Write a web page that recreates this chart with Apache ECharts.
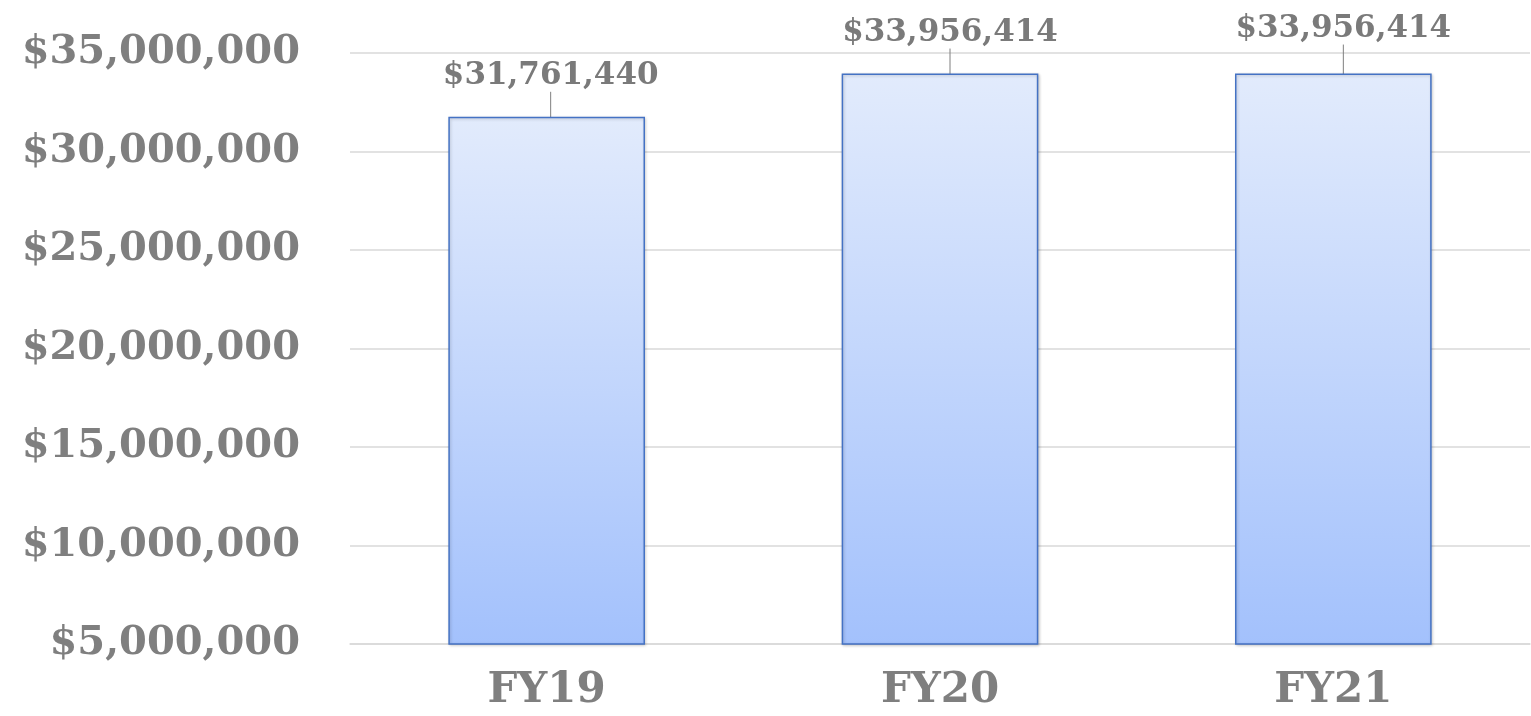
<!DOCTYPE html>
<html>
<head>
<meta charset="utf-8">
<script src="https://cdn.jsdelivr.net/npm/echarts@6/dist/echarts.min.js"></script>
<style>
html,body{margin:0;padding:0;background:#fff;}
#chart{width:1531px;height:716px;}
</style>
</head>
<body>
<div id="chart"></div>
<script>
const categories = ['FY19', 'FY20', 'FY21'];
const values = [31761440, 33956414, 33956414];
const yTicks = { min: 5000000, max: 35000000, interval: 5000000 };
const labelShift = [[4, -21], [10, -21], [10, -25]];

const fontFamily = 'DejaVu Serif';
const fmt = v => '$' + Number(v).toLocaleString('en-US');

const labelStyle = { color: '#7a7a7a', fontFamily: fontFamily, fontWeight: 'bold', fontSize: 31 };

const chart = echarts.init(document.getElementById('chart'));
chart.setOption({
  animation: false,
  textStyle: { fontFamily: fontFamily, fontWeight: 'bold' },
  grid: { left: 350, right: 1, top: 53, bottom: 72 },
  xAxis: {
    type: 'category',
    data: categories,
    axisLine: { show: true, lineStyle: { color: '#d9d9d9', width: 1.5 } },
    axisTick: { show: false },
    axisLabel: { color: '#7f7f7f', fontFamily, fontWeight: 'bold', fontSize: 42, margin: 26 }
  },
  yAxis: {
    type: 'value',
    min: yTicks.min, max: yTicks.max, interval: yTicks.interval,
    axisLine: { show: false },
    axisTick: { show: false },
    splitLine: { lineStyle: { color: '#d9d9d9', width: 1.5 } },
    axisLabel: { color: '#7f7f7f', fontFamily, fontWeight: 'bold', fontSize: 40, margin: 50, formatter: fmt }
  },
  series: [{
    type: 'bar',
    data: values,
    barWidth: '50%',
    itemStyle: {
      color: new echarts.graphic.LinearGradient(0, 0, 0, 1, [
        { offset: 0, color: '#e2ebfc' },
        { offset: 1, color: '#a3c1fc' }
      ]),
      borderColor: '#4472c4',
      borderWidth: 1.5,
      shadowColor: 'rgba(0,0,0,0.2)',
      shadowBlur: 3,
      shadowOffsetX: 1,
      shadowOffsetY: 1
    },
    label: Object.assign({
      show: true,
      position: 'top',
      distance: 4,
      formatter: p => fmt(p.value)
    }, labelStyle),
    emphasis: { disabled: true },
    labelLine: { show: true, lineStyle: { color: '#7f7f7f', width: 1 } },
    labelLayout: p => ({ dx: labelShift[p.dataIndex][0], dy: labelShift[p.dataIndex][1] })
  }]
});
</script>
</body>
</html>
